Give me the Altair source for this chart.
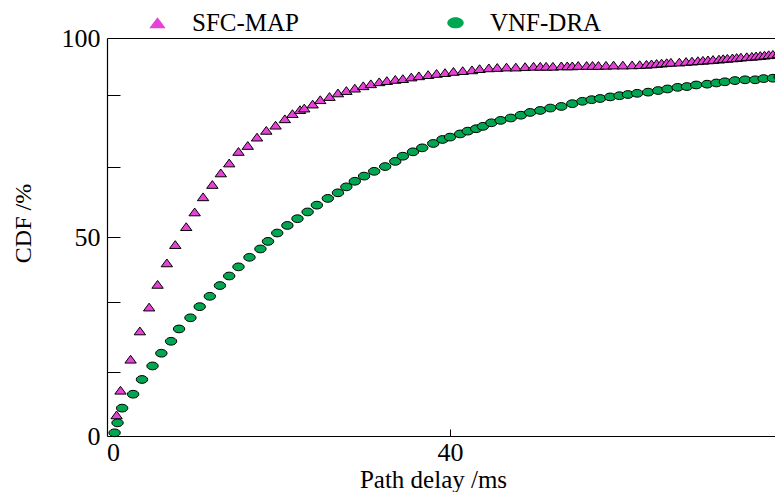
import altair as alt
import pandas as pd

series_names = ["SFC-MAP", "VNF-DRA"]

sfc_x = [0.44, 0.9, 2.1, 3.2, 4.3, 5.3, 6.4, 7.4, 8.7, 9.7, 10.7, 11.8, 12.8, 13.8, 14.9,
         16.0, 17.1, 18.2, 19.3, 20.4, 21.3, 22.2, 22.7, 23.7, 24.6, 25.7, 26.7, 27.7, 28.7,
         29.7, 30.6, 31.6, 32.5, 33.5, 34.4, 35.4, 36.3, 37.4, 38.4, 39.4, 40.4, 41.5, 42.6,
         43.5, 44.6, 45.6, 46.7, 47.8, 48.9, 49.9, 50.7, 51.4, 52.2, 53.2, 53.9, 54.5, 55.2,
         56.2, 56.9, 57.6, 58.5, 59.4, 60.5, 61.6, 62.5, 63.3, 63.9, 64.5, 65.1, 65.7, 66.2,
         67.2, 68.0, 68.7, 69.4, 70.0, 70.6, 71.2, 71.9, 72.4, 72.9, 73.5, 74.0, 74.5, 75.2,
         75.8, 76.3, 76.8, 77.3, 77.8, 78.3, 78.9]
sfc_y = [5.3, 11.5, 19.3, 26.4, 32.4, 38.1, 43.5, 48.1, 52.6, 56.3, 60.1, 63.2, 66.1, 68.6, 71.5,
         73.0, 75.1, 76.8, 78.1, 79.7, 81.0, 82.0, 82.4, 83.4, 84.5, 85.3, 86.2, 86.8, 87.4,
         88.0, 88.5, 89.0, 89.3, 89.6, 89.8, 90.2, 90.5, 90.8, 91.1, 91.3, 91.6, 91.8, 92.0,
         92.3, 92.5, 92.6, 92.7, 92.7, 92.8, 92.9, 92.9, 92.9, 92.9, 93.0, 93.0, 93.0, 93.1,
         93.1, 93.1, 93.1, 93.15, 93.2, 93.2, 93.25, 93.3, 93.4, 93.5, 93.6, 93.7, 93.8, 93.9,
         93.95, 94.1, 94.2, 94.3, 94.4, 94.5, 94.6, 94.7, 94.8, 94.9, 95.0, 95.1, 95.2, 95.3,
         95.4, 95.5, 95.6, 95.7, 95.8, 95.9, 96.1]

vnf_x = [0.2, 0.55, 1.1, 2.4, 3.45, 4.7, 5.75, 6.9, 7.85, 9.2, 10.3, 11.5, 12.7, 13.8, 14.9,
         16.2, 17.5, 18.4, 19.5, 20.7, 21.9, 23.1, 24.2, 25.5, 26.7, 27.7, 28.7, 29.8, 31.0,
         32.3, 33.5, 34.4, 35.6, 36.7, 38.0, 39.1, 40.0, 41.2, 42.1, 43.1, 43.9, 44.9, 46.0,
         47.2, 48.4, 49.5, 50.7, 51.9, 53.2, 54.5, 55.7, 56.8, 57.8, 59.0, 60.1, 61.1, 62.2,
         63.5, 64.7, 65.8, 67.0, 68.1, 69.2, 70.5, 71.6, 72.6, 73.8, 75.0, 76.2, 77.2, 78.3, 79.1]
vnf_y = [0.8, 3.3, 7.0, 10.5, 14.2, 17.6, 20.8, 23.8, 26.9, 29.7, 32.5, 35.1, 37.8, 40.2, 42.5,
         44.9, 47.0, 48.9, 51.0, 52.9, 54.6, 56.3, 58.0, 59.7, 61.1, 62.6, 64.0, 65.3, 66.5,
         67.7, 69.0, 70.3, 71.4, 72.4, 73.5, 74.5, 75.1, 75.9, 76.6, 77.2, 77.8, 78.7, 79.3,
         79.9, 80.6, 81.3, 81.8, 82.4, 82.8, 83.5, 84.1, 84.5, 84.8, 85.2, 85.5, 85.8, 86.1,
         86.4, 86.8, 87.2, 87.6, 87.8, 88.2, 88.4, 88.7, 89.0, 89.3, 89.5, 89.5, 89.8, 89.9, 90.2]

x_label_ticks = [0, 40]
y_label_ticks = [0, 50, 100]
y_minor_ticks = [16, 33.6, 50, 67.7, 85.7]
x_minor_ticks = [40]

df = pd.concat([
    pd.DataFrame({"x": sfc_x, "y": sfc_y, "series": series_names[0]}),
    pd.DataFrame({"x": vnf_x, "y": vnf_y, "series": series_names[1]}),
], ignore_index=True)

FONT = "'Liberation Serif', 'Times New Roman', Times, serif"
TRI = "M0,-0.68L1,0.68L-1,0.68Z"
ELL = ("M-1,0C-1,-0.3756,-0.5523,-0.68,0,-0.68C0.5523,-0.68,1,-0.3756,1,0"
       "C1,0.3756,0.5523,0.68,0,0.68C-0.5523,0.68,-1,0.3756,-1,0Z")

xscale = alt.Scale(domain=[-0.7, 78.55], nice=False, zero=False)
yscale = alt.Scale(domain=[0, 100], nice=False)

legend = alt.Legend(
    title=None, orient="none", legendX=38, legendY=-28, direction="horizontal",
    labelFont=FONT, labelFontSize=25, labelColor="black", symbolSize=270,
    symbolStrokeColor="black", symbolStrokeWidth=1, symbolOpacity=1,
    labelOffset=22, columnPadding=144, padding=0,
)

base = alt.Chart(df)

pts = base.mark_point(filled=True, opacity=1, stroke="black", strokeWidth=1, size=130).encode(
    x=alt.X("x:Q", scale=xscale, axis=alt.Axis(
        orient="bottom", values=x_label_ticks, ticks=False, tickSize=0, labelPadding=24,
        labelBaseline="alphabetic", labelFlush=False, labelFontSize=26,
        title="Path delay /ms", titleFontSize=25, titleX=326, titleY=51,
        titleBaseline="alphabetic", titleAlign="center")),
    y=alt.Y("y:Q", scale=yscale, axis=alt.Axis(
        orient="left", values=y_label_ticks, ticks=False, tickSize=0, labelPadding=7,
        labelFontSize=26, title="CDF /%", titleFontSize=24, titleAngle=270,
        titleX=-84, titleY=185, titleBaseline="middle", titleAlign="center")),
    color=alt.Color("series:N", scale=alt.Scale(domain=series_names, range=["#E642D8", "#00A650"]), legend=legend),
    shape=alt.Shape("series:N", scale=alt.Scale(domain=series_names, range=[TRI, ELL]), legend=legend),
)

tick_layer = base.mark_point(opacity=0).encode(
    x=alt.X("x:Q", scale=xscale, axis=alt.Axis(
        orient="bottom", offset=-7, tickSize=7, values=x_minor_ticks, domain=False,
        labels=False, title=None)),
    y=alt.Y("y:Q", scale=yscale, axis=alt.Axis(
        orient="left", offset=-13, tickSize=13, values=y_minor_ticks, domain=False,
        labels=False, title=None)),
)

top_layer = base.mark_point(opacity=0).encode(
    x=alt.X("x:Q", scale=xscale, axis=alt.Axis(
        orient="top", ticks=False, labels=False, domain=True, title=None)),
    y=alt.Y("y:Q", scale=yscale, axis=None),
)

chart = alt.layer(pts, tick_layer, top_layer).resolve_axis(
    x="independent", y="independent"
).properties(
    width=668, height=398, autosize="none",
    padding={"left": 99, "top": 30, "right": 0, "bottom": 56},
).configure_view(stroke=None).configure_axis(
    grid=False, domainColor="black", tickColor="black", labelColor="black",
    titleColor="black", labelFont=FONT, titleFont=FONT, titleFontWeight="normal",
    domainWidth=1.2, tickWidth=1,
)

chart.save("out.html", embed_options={"renderer": "svg", "actions": False})
